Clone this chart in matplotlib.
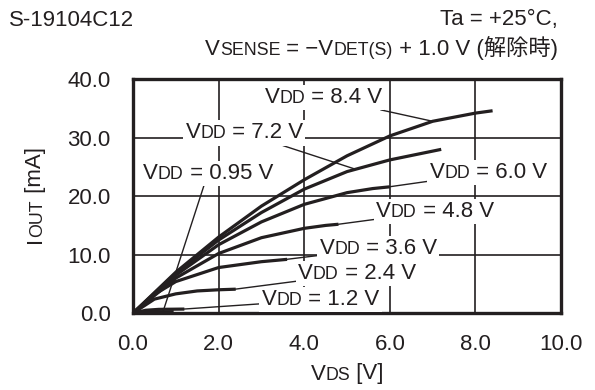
import numpy as np
import matplotlib
matplotlib.use('Agg')
import matplotlib.pyplot as plt
from matplotlib.offsetbox import TextArea, HPacker, AnnotationBbox

plt.rcParams['font.family'] = ['Liberation Sans', 'Noto Sans CJK JP', 'DejaVu Sans']

# curves: V_DS [V] -> I_OUT [mA]
vds_84 = [0, 1, 2, 3, 4, 5, 6, 7, 8, 8.4]
iout_84 = [0, 7.0, 13.0, 18.3, 22.8, 26.9, 30.3, 32.8, 34.2, 34.6]
vds_72 = [0, 1, 2, 3, 4, 5, 6, 7, 7.2]
iout_72 = [0, 6.8, 12.5, 17.2, 21.2, 24.2, 26.2, 27.7, 28.0]
vds_60 = [0, 1, 2, 3, 4, 5, 5.6, 6.0]
iout_60 = [0, 6.5, 11.7, 15.6, 18.6, 20.6, 21.3, 21.6]
vds_48 = [0, 1, 2, 3, 4, 4.5, 4.8]
iout_48 = [0, 6.0, 10.2, 12.9, 14.5, 15.0, 15.2]
vds_36 = [0, 0.5, 1, 2, 3, 3.3, 3.6]
iout_36 = [0, 3.2, 5.4, 7.8, 8.8, 9.0, 9.2]
vds_24 = [0, 0.5, 1, 1.5, 2, 2.4]
iout_24 = [0, 2.4, 3.3, 3.8, 4.0, 4.1]
vds_12 = [0, 0.3, 0.6, 1.2]
iout_12 = [0, 0.5, 0.65, 0.7]
vds_095 = [0, 0.5, 0.95]
iout_095 = [0, 0.2, 0.25]

vdd_labels = ['8.4', '7.2', '6.0', '4.8', '3.6', '2.4', '1.2', '0.95']
curves = [(vds_84, iout_84), (vds_72, iout_72), (vds_60, iout_60), (vds_48, iout_48),
          (vds_36, iout_36), (vds_24, iout_24), (vds_12, iout_12), (vds_095, iout_095)]

# label placement: (label x, label y, leader target x on the curve)
label_pos = [(4.45, 36.9, 7.0), (2.6, 30.8, 5.2), (8.3, 24.0, 5.95), (7.05, 17.4, 4.8),
             (5.73, 11.1, 3.55), (5.23, 6.8, 2.38), (4.38, 2.3, 1.18), (1.75, 23.9, 0.7)]

FS = 16
FS_SMALL = 12.8
INK = '#231f20'


def rich(parts, size=FS):
    boxes = []
    for txt, small in parts:
        boxes.append(TextArea(txt, textprops=dict(fontsize=FS_SMALL if small else size, color=INK)))
    return HPacker(children=boxes, align='baseline', pad=0, sep=0)


fig = plt.figure(figsize=(5.95, 3.9), dpi=100)
ax = fig.add_axes([0.2235, 0.197, 0.7195, 0.6])

for (x, y) in curves:
    ax.plot(x, y, color=INK, lw=2.3, solid_capstyle='butt', zorder=2)

ax.set_xlim(0, 10)
ax.set_ylim(0, 40)
ax.set_xticks(np.arange(0, 10.1, 2))
ax.set_yticks(np.arange(0, 40.1, 10))
ax.set_xticklabels([f'{v:.1f}' for v in np.arange(0, 10.1, 2)])
ax.set_yticklabels([f'{v:.1f}' for v in np.arange(0, 40.1, 10)])
ax.tick_params(length=0, labelsize=FS, colors=INK)
ax.tick_params(axis='y', pad=16)
ax.tick_params(axis='x', pad=15)
ax.grid(True, color=INK, lw=1.2, zorder=0.5)
ax.set_axisbelow(True)
for s in ax.spines.values():
    s.set_linewidth(2.4)
    s.set_color(INK)

for (vdd, (lx, ly, tx), (x, y)) in zip(vdd_labels, label_pos, curves):
    ty = np.interp(tx, x, y)
    box = rich([('V', False), ('DD', True), (f' = {vdd} V', False)])
    ab = AnnotationBbox(box, (tx, ty), xybox=(lx, ly), xycoords='data', boxcoords='data',
                        box_alignment=(0.5, 0.5), frameon=True, pad=0.15,
                        bboxprops=dict(fc='white', ec='none'),
                        arrowprops=dict(arrowstyle='-', lw=1.0, color=INK,
                                        shrinkA=0, shrinkB=0))
    ab.set_zorder(3)
    ax.add_artist(ab)

# titles
fig.text(9 / 595, 1 - 20 / 390, 'S-19104C12', fontsize=FS, color=INK, va='center', ha='left')
fig.text(558 / 595, 1 - 20 / 390, 'Ta = +25°C,', fontsize=FS, color=INK, va='center', ha='right')
sub = rich([('V', False), ('SENSE', True), (' = \u2212V', False), ('DET(S)', True),
            (' + 1.0 V (解除時)', False)])
fig.add_artist(AnnotationBbox(sub, (558 / 595, 1 - 48 / 390), xycoords='figure fraction',
                              box_alignment=(1, 0.5), frameon=False, pad=0))

xl = rich([('V', False), ('DS', True), (' [V]', False)])
fig.add_artist(AnnotationBbox(xl, (347 / 595, 1 - 374 / 390), xycoords='figure fraction',
                              box_alignment=(0.5, 0.5), frameon=False, pad=0))

# rotated y label built piece by piece, baselines kept on the right edge
t = fig.text(46 / 595, 1 - 243 / 390, 'I', fontsize=FS, color=INK, rotation=90,
             ha='right', va='bottom')
t = ax.annotate('OUT', xy=(1, 1), xycoords=t, fontsize=FS_SMALL, color=INK,
                rotation=90, ha='right', va='bottom')
t = ax.annotate(' [mA]', xy=(1, 1), xycoords=t, fontsize=FS, color=INK,
                rotation=90, ha='right', va='bottom', annotation_clip=False)

fig.savefig('out.png', dpi=100)
